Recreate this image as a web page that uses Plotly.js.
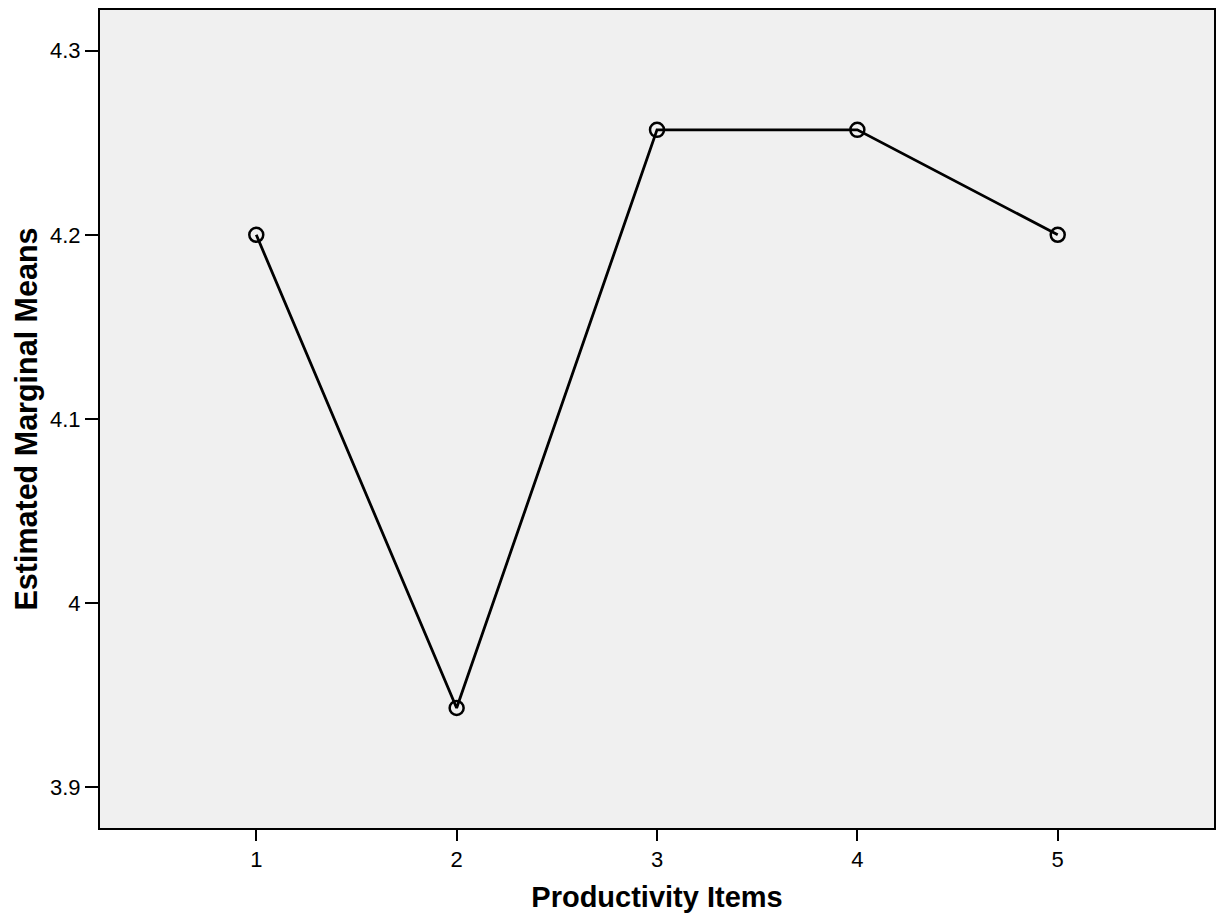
<!DOCTYPE html>
<html>
<head>
<meta charset="utf-8">
<script src="https://cdn.plot.ly/plotly-3.0.1.min.js"></script>
<style>html,body{margin:0;padding:0;background:#fff;}#chart{width:1216px;height:920px;}</style>
</head>
<body>
<div id="chart"></div>
<script>
const items = [1, 2, 3, 4, 5];
const means = [4.200, 3.943, 4.257, 4.257, 4.200];
const yTickVals = [3.9, 4.0, 4.1, 4.2, 4.3];
const yTickText = ["3.9", "4", "4.1", "4.2", "4.3"];
const xTickText = ["1", "2", "3", "4", "5"];

const trace = {
  x: items,
  y: means,
  type: 'scatter',
  mode: 'lines+markers',
  line: {color: '#000000', width: 2.8},
  marker: {symbol: 'circle-open', size: 14, color: '#000000', line: {width: 2.5, color: '#000000'}},
  hoverinfo: 'x+y'
};

const layout = {
  width: 1216,
  height: 920,
  margin: {l: 100, r: 2, t: 10, b: 92},
  paper_bgcolor: '#ffffff',
  plot_bgcolor: '#f0f0f0',
  showlegend: false,
  font: {family: '"Liberation Sans", Arial, sans-serif', color: '#000000'},
  xaxis: {
    range: [0.22, 5.78],
    tickvals: items,
    ticktext: xTickText,
    ticks: 'outside',
    ticklen: 11,
    tickwidth: 2,
    tickcolor: '#000',
    showgrid: false,
    zeroline: false,
    showline: true,
    linecolor: '#000',
    linewidth: 2,
    mirror: true,
    tickfont: {size: 22, color: '#000'},
    title: {text: 'Productivity Items', font: {size: 29, color: '#000', weight: 'bold'}, standoff: 15}
  },
  yaxis: {
    range: [3.8778, 4.3221],
    tickvals: yTickVals,
    ticktext: yTickText,
    ticks: 'outside',
    ticklen: 13,
    tickwidth: 2,
    tickcolor: '#000',
    showgrid: false,
    zeroline: false,
    showline: true,
    linecolor: '#000',
    linewidth: 2,
    mirror: true,
    tickfont: {size: 22, color: '#000'},
    title: {text: 'Estimated Marginal Means', font: {size: 30.5, color: '#000', weight: 'bold'}, standoff: 3}
  }
};

Plotly.newPlot('chart', [trace], layout, {displayModeBar: false, staticPlot: true});
</script>
</body>
</html>
